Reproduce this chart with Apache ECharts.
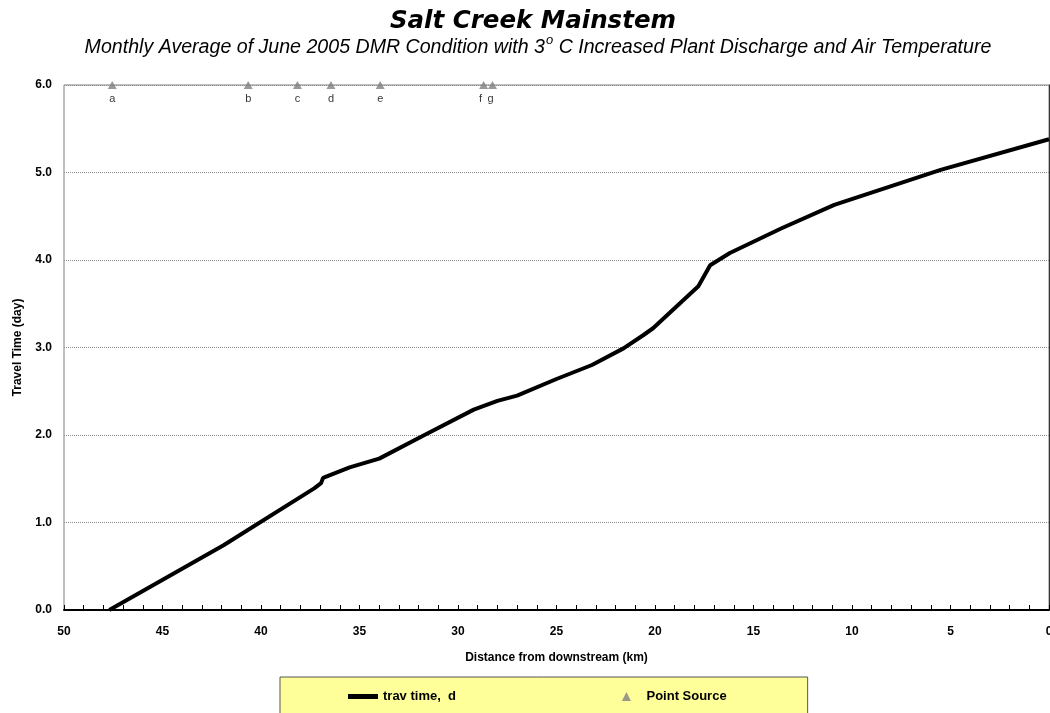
<!DOCTYPE html>
<html lang="en">
<head>
    <meta charset="UTF-8">
    <title>Salt Creek Mainstem</title>
    <script src="https://cdn.jsdelivr.net/npm/echarts@6/dist/echarts.min.js"></script>
    <style>
        * {
            margin: 0;
            padding: 0
        }

        html, body {
            width: 100%;
            height: 100%;
            background: #fff;
        }

        #main {
            width: 1050px;
            height: 713px;
        }
    </style>
</head>
<body>
    <div id="main"></div>
</body>
<script type="text/javascript">
    /*-------------------- data ------------------------------------------------*/
    var distKm   = [47.7, 41.9, 37.3, 36.95, 36.85, 35.5, 34.0, 31.7, 29.2, 28.0, 27.0, 25.0, 23.2, 21.6, 20.6, 20.1, 17.8, 17.2, 16.2, 13.6, 10.9, 5.5, 0.0];
    var travDay  = [0.00, 0.74, 1.39, 1.45, 1.51, 1.63, 1.73, 2.00, 2.29, 2.39, 2.45, 2.64, 2.80, 2.99, 3.14, 3.22, 3.70, 3.94, 4.08, 4.36, 4.63, 5.03, 5.38];

    var srcNames = ['a', 'b', 'c', 'd', 'e', 'f', 'g'];
    var srcKm    = [47.55, 40.65, 38.15, 36.45, 33.95, 28.7, 28.25];
    var srcDay   = [6.0, 6.0, 6.0, 6.0, 6.0, 6.0, 6.0];

    var yTicks = ['0.0', '1.0', '2.0', '3.0', '4.0', '5.0', '6.0'];

    // f and g sit almost on top of each other, nudge their letters apart
    var labelShift = {f: [-3, 0], g: [-2, 0]};

    var lineData = distKm.map(function (d, i) { return [d, travDay[i]]; });
    var srcData = srcNames.map(function (n, i) {
        return {
            name: n,
            value: [srcKm[i], srcDay[i]],
            label: {offset: labelShift[n] || [0, 0]}
        };
    });

    var myChart = echarts.init(document.getElementById('main'));
    var fontMain = 'Liberation Sans, Arial, sans-serif';

    myChart.setOption({
        animation: false,
        backgroundColor: '#fff',
        title: [{
            text: 'Salt Creek Mainstem',
            left: 528,
            top: 4,
            textAlign: 'center',
            textStyle: {
                fontFamily: 'DejaVu Sans, sans-serif',
                fontSize: 24.5,
                fontWeight: 'bold',
                fontStyle: 'italic',
                color: '#000'
            }
        }, {
            text: '{t|Monthly Average of June 2005 DMR Condition with 3}{s|o}{t| C Increased Plant Discharge and Air Temperature}',
            left: 533,
            top: 29,
            textAlign: 'center',
            textStyle: {
                fontWeight: 'normal',
                rich: {
                    t: {fontFamily: fontMain, fontSize: 19.6, fontStyle: 'italic', fontWeight: 'normal', color: '#000', verticalAlign: 'bottom', lineHeight: 24},
                    s: {fontFamily: fontMain, fontSize: 13, fontStyle: 'italic', fontWeight: 'normal', color: '#000', verticalAlign: 'top', lineHeight: 24, padding: [0, 0, 11, 1]}
                }
            }
        }],
        grid: {
            left: 64,
            right: 1,
            top: 85,
            bottom: 103,
            show: true,
            borderColor: '#808080',
            borderWidth: 1,
            containLabel: false,
            outerBoundsMode: 'none'
        },
        legend: {
            left: 280,
            top: 677,
            padding: [13, 81, 20, 68],
            itemGap: 166,
            itemWidth: 30,
            itemHeight: 9,
            symbolKeepAspect: true,
            backgroundColor: '#FFFF99',
            borderColor: '#555',
            borderWidth: 1,
            textStyle: {fontFamily: fontMain, fontSize: 13, fontWeight: 'bold', color: '#000'},
            data: [
                {name: 'trav time,  d', icon: 'path://M0,0H30V5H0Z'},
                {name: 'Point Source', icon: 'path://M4,0L8,8H0Z'}
            ]
        },
        xAxis: {
            type: 'value',
            inverse: true,
            min: 0,
            max: 50,
            interval: 5,
            name: 'Distance from downstream (km)',
            nameLocation: 'middle',
            nameGap: 42,
            nameTextStyle: {fontFamily: fontMain, fontSize: 12, fontWeight: 'bold', color: '#000'},
            axisLine: {show: true, onZero: false, lineStyle: {color: '#000', width: 2}},
            axisTick: {show: true, inside: true, length: 5, lineStyle: {color: '#000'}},
            minorTick: {show: true, splitNumber: 5, length: 5, lineStyle: {color: '#000'}},
            axisLabel: {fontFamily: fontMain, fontSize: 12, fontWeight: 'bold', color: '#000', margin: 16},
            splitLine: {show: false}
        },
        yAxis: [{
            type: 'value',
            min: 0,
            max: 6,
            interval: 1,
            name: 'Travel Time (day)',
            nameLocation: 'middle',
            nameGap: 40,
            nameTextStyle: {fontFamily: fontMain, fontSize: 12, fontWeight: 'bold', color: '#000'},
            axisLine: {show: true, lineStyle: {color: '#808080', width: 1}},
            axisTick: {show: false},
            axisLabel: {
                fontFamily: fontMain, fontSize: 12, fontWeight: 'bold', color: '#000', margin: 12,
                formatter: function (v) { return yTicks[Math.round(v)]; }
            },
            splitLine: {show: true, lineStyle: {color: '#8c8c8c', type: 'dotted', width: 1}}
        }, {
            type: 'value',
            position: 'right',
            min: 0,
            max: 6,
            interval: 1,
            axisLine: {show: true, lineStyle: {color: '#333', width: 1}},
            axisTick: {show: true, length: 3, lineStyle: {color: '#333'}},
            axisLabel: {show: false},
            splitLine: {show: false}
        }],
        series: [{
            name: 'trav time,  d',
            type: 'line',
            yAxisIndex: 0,
            data: lineData,
            symbol: 'none',
            smooth: false,
            lineStyle: {color: '#000', width: 4},
            itemStyle: {color: '#000'},
            z: 3
        }, {
            name: 'Point Source',
            type: 'scatter',
            yAxisIndex: 0,
            data: srcData,
            symbol: 'triangle',
            symbolSize: [9, 8],
            itemStyle: {color: '#808080'},
            label: {
                show: true,
                position: 'bottom',
                distance: 4,
                formatter: '{b}',
                fontFamily: fontMain,
                fontSize: 11,
                color: '#000'
            },
            z: 4
        }]
    });
</script>
</html>
